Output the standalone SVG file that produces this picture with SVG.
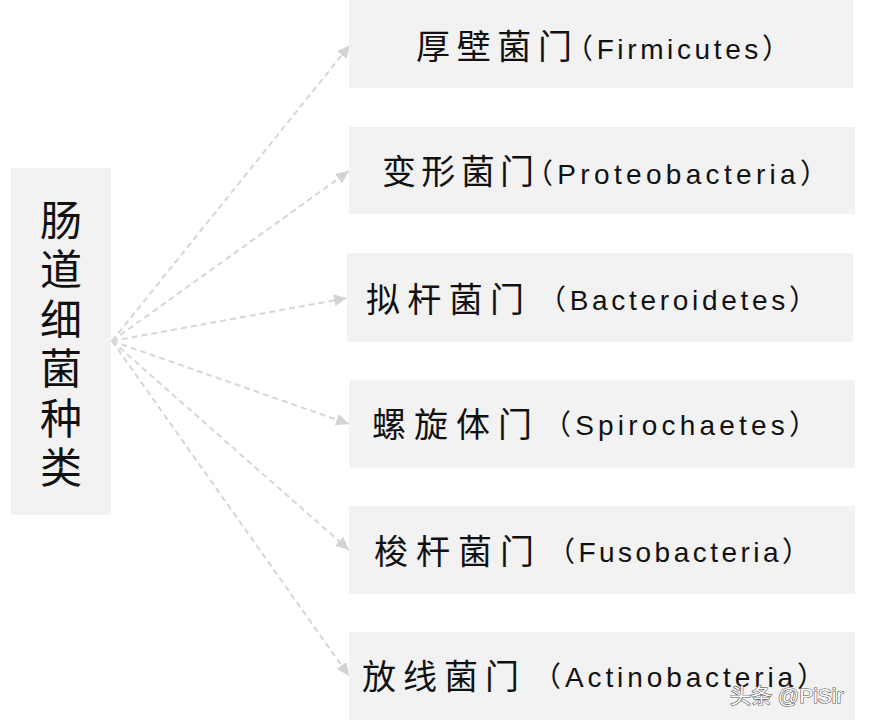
<svg xmlns="http://www.w3.org/2000/svg" width="872" height="727" viewBox="0 0 872 727">
<defs>
<style>
.box{fill:#f2f2f2}
.zh{font-family:"Noto Sans CJK SC","Noto Sans CJK JP",sans-serif;font-size:34px;fill:#111}
.en{font-family:"Liberation Sans","Noto Sans CJK SC",sans-serif;font-size:28px;fill:#111}
.root{font-family:"Noto Sans CJK SC",sans-serif;font-size:42px;fill:#111;writing-mode:vertical-rl;letter-spacing:7.5px}
.edge{fill:none;stroke:#d6d6d6;stroke-width:2;stroke-dasharray:6 4}
.wm{font-family:"Liberation Sans","Noto Sans CJK SC",sans-serif;font-size:21px;fill:#fff;stroke:#555;stroke-width:1.2;paint-order:stroke}
</style>
<marker id="ah" markerUnits="userSpaceOnUse" markerWidth="14" markerHeight="12" refX="13" refY="6" orient="auto">
<path d="M0,0 L13,6 L0,12 z" fill="#d3d3d3"/>
</marker>
</defs>
<rect width="872" height="727" fill="#fff"/>
<g id="connectors">
<line class="edge" x1="112" y1="341" x2="350" y2="45" marker-end="url(#ah)"/>
<line class="edge" x1="112" y1="341" x2="349" y2="171" marker-end="url(#ah)"/>
<line class="edge" x1="112" y1="341" x2="347" y2="298" marker-end="url(#ah)"/>
<line class="edge" x1="112" y1="341" x2="349" y2="424" marker-end="url(#ah)"/>
<line class="edge" x1="112" y1="341" x2="349" y2="550" marker-end="url(#ah)"/>
<line class="edge" x1="112" y1="341" x2="349" y2="676" marker-end="url(#ah)"/>
</g>
<g id="root">
<rect class="box" x="11" y="168" width="100" height="347"/>
<text class="root" x="61" y="199">肠道细菌种类</text>
</g>
<g id="n1">
<rect class="box" x="349" y="0" width="504" height="88"/>
<text class="zh" x="416" y="59" textLength="156" lengthAdjust="spacing">厚壁菌门</text>
<text class="en" x="565" y="59" textLength="225" lengthAdjust="spacing">（Firmicutes）</text>
</g>
<g id="n2">
<rect class="box" x="349" y="127" width="506" height="87"/>
<text class="zh" x="382" y="184" textLength="152" lengthAdjust="spacing">变形菌门</text>
<text class="en" x="525" y="184" textLength="303" lengthAdjust="spacing">（Proteobacteria）</text>
</g>
<g id="n3">
<rect class="box" x="347" y="253" width="506" height="89"/>
<text class="zh" x="366" y="312" textLength="158" lengthAdjust="spacing">拟杆菌门</text>
<text class="en" x="538" y="310" textLength="279" lengthAdjust="spacing">（Bacteroidetes）</text>
</g>
<g id="n4">
<rect class="box" x="349" y="380" width="506" height="88"/>
<text class="zh" x="372" y="437" textLength="160" lengthAdjust="spacing">螺旋体门</text>
<text class="en" x="543" y="435" textLength="274" lengthAdjust="spacing">（Spirochaetes）</text>
</g>
<g id="n5">
<rect class="box" x="349" y="506" width="506" height="88"/>
<text class="zh" x="374" y="564" textLength="160" lengthAdjust="spacing">梭杆菌门</text>
<text class="en" x="547" y="562" textLength="263" lengthAdjust="spacing">（Fusobacteria）</text>
</g>
<g id="n6">
<rect class="box" x="349" y="632" width="506" height="88"/>
<text class="zh" x="362" y="689" textLength="157" lengthAdjust="spacing">放线菌门</text>
<text class="en" x="533" y="687" textLength="292" lengthAdjust="spacing">（Actinobacteria）</text>
</g>
<text class="wm" x="730" y="703">头条 @PiSir</text>
</svg>
